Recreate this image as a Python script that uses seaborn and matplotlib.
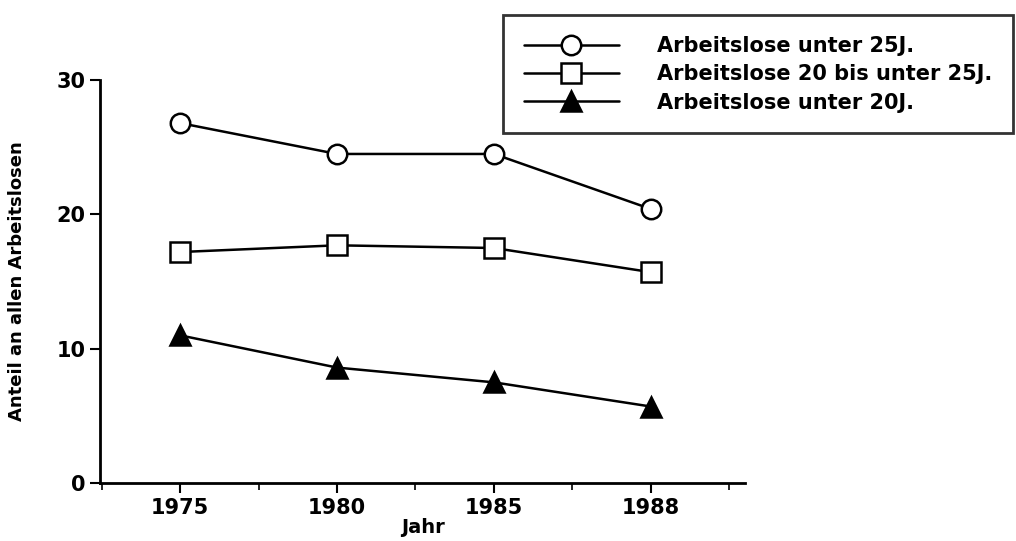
import pandas as pd
import seaborn as sns
import matplotlib.pyplot as plt
from matplotlib.ticker import FixedLocator

# values
years = ["1975", "1980", "1985", "1988"]
unter_25 = [26.8, 24.5, 24.5, 20.4]
zwanzig_bis_25 = [17.2, 17.7, 17.5, 15.7]
unter_20 = [11.0, 8.6, 7.5, 5.7]

series_names = ["Arbeitslose unter 25J.",
                "Arbeitslose 20 bis unter 25J.",
                "Arbeitslose unter 20J."]

rows = []
for name, vals in zip(series_names, [unter_25, zwanzig_bis_25, unter_20]):
    for i, (yr, v) in enumerate(zip(years, vals)):
        rows.append({"pos": i, "Jahr": yr, "Anteil": v, "Reihe": name})
df = pd.DataFrame(rows)

sns.set_theme(style="ticks")
plt.rcParams["font.family"] = ["DejaVu Sans"]
plt.rcParams["font.weight"] = "bold"
plt.rcParams["text.color"] = "black"
plt.rcParams["axes.labelcolor"] = "black"

fig = plt.figure(figsize=(10.16, 5.41), dpi=100)
ax = fig.add_axes([0.0984, 0.107, 0.635, 0.745])

markers = {series_names[0]: "o", series_names[1]: "s", series_names[2]: "^"}
sns.lineplot(data=df, x="pos", y="Anteil", style="Reihe", markers=markers,
             dashes=False, color="black", linewidth=1.8, markersize=14,
             markeredgewidth=1.8, ax=ax, legend=True)

# open markers for circle and square
for line in ax.lines:
    if line.get_marker() in ("o", "s"):
        line.set_markerfacecolor("white")
    else:
        line.set_markerfacecolor("black")
    line.set_markeredgecolor("black")

ax.set_xlim(-0.51, 3.6)
ax.set_ylim(0, 30)
ax.set_xticks(range(len(years)))
ax.set_xticklabels(years)
ax.xaxis.set_minor_locator(FixedLocator([-0.5, 0.5, 1.5, 2.5, 3.5]))
ax.set_yticks([0, 10, 20, 30])
ax.tick_params(axis="both", which="major", length=7, width=1.5,
               labelsize=15, colors="black")
ax.tick_params(axis="x", which="minor", length=5, width=1.2, colors="black")
for s in ["top", "right"]:
    ax.spines[s].set_visible(False)
for s in ["left", "bottom"]:
    ax.spines[s].set_linewidth(2)
    ax.spines[s].set_color("black")

ax.set_xlabel("Jahr", fontsize=14, fontweight="bold", labelpad=0)
ax.set_ylabel("Anteil an allen Arbeitslosen", fontsize=13, fontweight="bold", labelpad=22)

handles, labels = ax.get_legend_handles_labels()
for h in handles:
    h.set_color("black")
    h.set_markeredgecolor("black")
    h.set_markersize(14)
    h.set_linewidth(1.8)
    if h.get_marker() in ("o", "s"):
        h.set_markerfacecolor("white")
    else:
        h.set_markerfacecolor("black")
ax.get_legend().remove()
leg = fig.legend(handles, labels, loc="upper right",
                 bbox_to_anchor=(0.997, 0.972), fontsize=15, frameon=True,
                 fancybox=False, edgecolor="black", handlelength=4.6,
                 handletextpad=1.8, labelspacing=0.4, borderpad=1.0,
                 borderaxespad=0)
leg.get_frame().set_linewidth(2)
leg.get_frame().set_edgecolor("black")
for t in leg.get_texts():
    t.set_color("black")

fig.savefig("out.png", dpi=100, facecolor="white")
